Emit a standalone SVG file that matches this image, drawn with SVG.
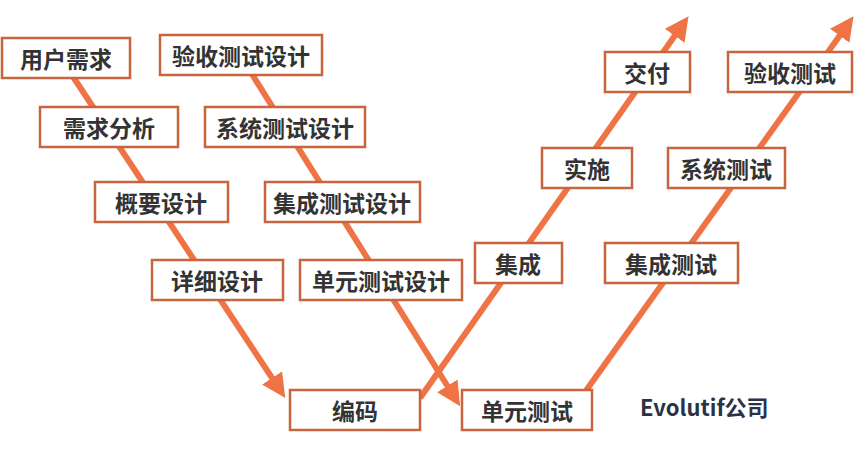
<svg xmlns="http://www.w3.org/2000/svg" width="863" height="453" viewBox="0 0 863 453">
<style>
.b rect{fill:#fff;stroke:#c8653f;stroke-width:2.5}
.b text{font-family:"Noto Sans CJK SC","Liberation Sans",sans-serif;font-weight:bold;font-size:23px;fill:#333;text-anchor:middle;dominant-baseline:central}
.l{stroke:#ef7345;stroke-width:6;fill:none;marker-end:url(#a)}
</style>
<defs><marker id="a" viewBox="0 0 10 10" refX="6" refY="5" markerWidth="4" markerHeight="4" orient="auto"><path d="M0,0L10,5L0,10z" fill="#ef7345"/></marker></defs>
<rect width="863" height="453" fill="#fff"/>
<g id="connectors">
<path class="l" d="M62,60L280,390"/>
<path class="l" d="M240,55L455,398"/>
<path class="l" d="M420,398L683,24"/>
<path class="l" d="M585,392L848,24"/>
</g>
<g id="n1" class="b"><rect x="2" y="38" width="128" height="40"/><text x="66" y="58">用户需求</text></g>
<g id="n2" class="b"><rect x="160" y="35" width="162" height="40"/><text x="241" y="55">验收测试设计</text></g>
<g id="n3" class="b"><rect x="40" y="107" width="138" height="40"/><text x="109" y="127">需求分析</text></g>
<g id="n4" class="b"><rect x="205" y="107" width="160" height="40"/><text x="285" y="127">系统测试设计</text></g>
<g id="n5" class="b"><rect x="95" y="182" width="133" height="40"/><text x="161" y="202">概要设计</text></g>
<g id="n6" class="b"><rect x="265" y="182" width="155" height="40"/><text x="342" y="202">集成测试设计</text></g>
<g id="n7" class="b"><rect x="152" y="260" width="131" height="40"/><text x="217" y="280">详细设计</text></g>
<g id="n8" class="b"><rect x="300" y="260" width="162" height="40"/><text x="381" y="280">单元测试设计</text></g>
<g id="n9" class="b"><rect x="290" y="390" width="130" height="40"/><text x="355" y="410">编码</text></g>
<g id="n10" class="b"><rect x="462" y="390" width="130" height="40"/><text x="527" y="410">单元测试</text></g>
<g id="n11" class="b"><rect x="475" y="243" width="87" height="40"/><text x="518" y="263">集成</text></g>
<g id="n12" class="b"><rect x="542" y="148" width="90" height="40"/><text x="587" y="168">实施</text></g>
<g id="n13" class="b"><rect x="605" y="52" width="85" height="40"/><text x="647" y="72">交付</text></g>
<g id="n14" class="b"><rect x="605" y="243" width="133" height="40"/><text x="671" y="263">集成测试</text></g>
<g id="n15" class="b"><rect x="668" y="148" width="117" height="40"/><text x="726" y="168">系统测试</text></g>
<g id="n16" class="b"><rect x="728" y="52" width="124" height="40"/><text x="790" y="72">验收测试</text></g>
<text x="640" y="406" font-family="'Noto Sans CJK SC','Liberation Sans',sans-serif" font-weight="bold" font-size="22" fill="#2a3345" dominant-baseline="central">Evolutif公司</text>
</svg>
